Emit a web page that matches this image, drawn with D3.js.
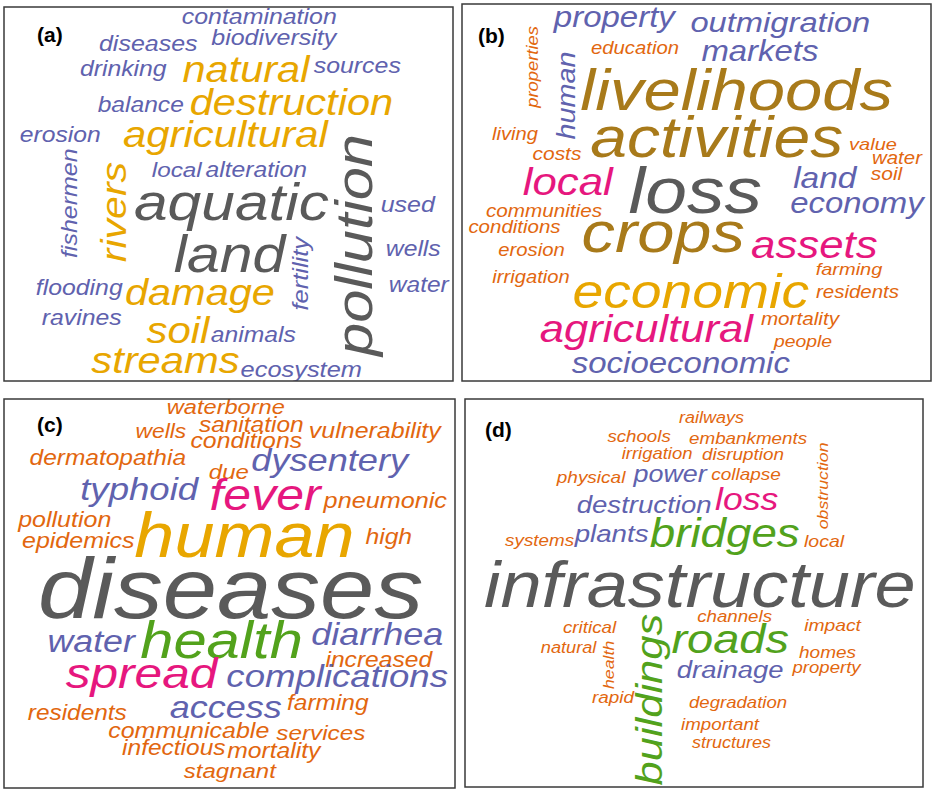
<!DOCTYPE html>
<html>
<head>
<meta charset="utf-8">
<script src="https://cdn.jsdelivr.net/npm/d3@7"></script>
<style>
  body { margin: 0; background: #fff; }
  svg { display: block; }
</style>
</head>
<body>
<svg id="chart" width="935" height="793"></svg>
<script>
// words of each cloud: [word, weight, colour group]
const wordsA = [
  ["contamination", 24.9, "P"], ["biodiversity", 25, "P"], ["diseases", 25, "P"],
  ["drinking", 24.8, "P"], ["natural", 41.5, "G"], ["sources", 24.9, "P"],
  ["balance", 24.6, "P"], ["destruction", 41.6, "G"], ["erosion", 24.7, "P"],
  ["agricultural", 41.9, "G"], ["fishermen", 25, "P"], ["rivers", 41, "G"],
  ["local", 24.3, "P"], ["alteration", 24.7, "P"], ["aquatic", 60.5, "K"],
  ["pollution", 59.6, "K"], ["used", 25, "P"], ["land", 59, "K"],
  ["fertility", 25.5, "P"], ["wells", 24.7, "P"], ["water", 24.5, "P"],
  ["flooding", 24.8, "P"], ["damage", 41.5, "G"], ["ravines", 24.8, "P"],
  ["soil", 42, "G"], ["animals", 24.7, "P"], ["streams", 41.7, "G"],
  ["ecosystem", 25.4, "P"]
];
// cloud placement: [x, y (baseline), rotation] inside the panel
const placeA = [
  [256.5, 17, 0], [271, 38, 0], [145.5, 44, 0],
  [120.5, 69, 0], [244, 75, 0], [354.5, 66, 0],
  [138, 105, 0], [289.5, 108, 0], [57.5, 135, 0],
  [223.5, 140, 0], [73, 195, -90], [122, 203, -90],
  [174, 170, 0], [253.5, 170, 0], [230.5, 213, 0],
  [368, 235, -90], [405, 205, 0], [228.5, 265, 0],
  [304, 265.5, -90], [410.5, 249, 0], [416, 285, 0],
  [76.5, 288, 0], [198, 298, 0], [79, 318, 0],
  [176, 336, 0], [250.5, 335, 0], [163.5, 366, 0],
  [298.5, 370, 0]
];

const wordsB = [
  ["property", 33, "P"], ["outmigration", 32.7, "P"], ["properties", 18.4, "O"],
  ["education", 20.3, "O"], ["human", 28.8, "P"], ["markets", 32.9, "P"],
  ["livelihoods", 67, "B"], ["living", 20.2, "O"], ["activities", 66, "B"],
  ["value", 20, "O"], ["costs", 21, "O"], ["water", 20.4, "O"],
  ["soil", 21, "O"], ["local", 43.8, "M"], ["loss", 75, "K"],
  ["land", 33.5, "P"], ["economy", 32.9, "P"], ["communities", 20.7, "O"],
  ["conditions", 20.5, "O"], ["crops", 66.8, "B"], ["assets", 43.8, "M"],
  ["erosion", 20.3, "O"], ["farming", 20, "O"], ["irrigation", 20.2, "O"],
  ["economic", 55.3, "G"], ["residents", 20.5, "O"], ["mortality", 20.7, "O"],
  ["agricultural", 43.6, "M"], ["people", 19.4, "O"], ["socioeconomic", 33, "P"]
];
const placeB = [
  [154, 23, 0], [320, 28, 0], [76, 62, -90],
  [174, 50, 0], [113, 90, -90], [299.5, 57, 0],
  [278, 106, 0], [54, 136, 0], [258, 153, 0],
  [412, 146, 0], [96, 156, 0], [436, 160, 0],
  [425.5, 176, 0], [108, 191, 0], [237, 209, 0],
  [364.5, 184, 0], [396.5, 209, 0], [83, 213, 0],
  [53.5, 229, 0], [204.5, 248, 0], [354.5, 254, 0],
  [70.5, 252, 0], [388, 271, 0], [70, 279, 0],
  [231.5, 304, 0], [396.5, 294, 0], [339, 321, 0],
  [186.5, 338, 0], [342, 343, 0], [220.5, 369, 0]
];

const wordsC = [
  ["waterborne", 23.6, "O"], ["wells", 22.8, "O"], ["sanitation", 24.5, "O"],
  ["vulnerability", 25, "O"], ["conditions", 24.8, "O"], ["dermatopathia", 24.5, "O"],
  ["due", 24, "O"], ["dysentery", 36.2, "P"], ["typhoid", 36.6, "P"],
  ["fever", 50, "M"], ["pneumonic", 25.2, "O"], ["pollution", 25, "O"],
  ["human", 72, "G"], ["high", 24.7, "O"], ["epidemics", 25, "O"],
  ["diseases", 97.6, "K"], ["water", 35.7, "P"], ["health", 59.7, "N"],
  ["diarrhea", 36, "P"], ["increased", 24.6, "O"], ["spread", 49.6, "M"],
  ["complications", 36.6, "P"], ["access", 36, "P"], ["farming", 24.5, "O"],
  ["residents", 24.4, "O"], ["communicable", 25, "O"], ["services", 24.3, "O"],
  ["infectious", 24.5, "O"], ["mortality", 24.7, "O"], ["stagnant", 24, "O"]
];
const placeC = [
  [223, 15, 0], [158, 39, 0], [248.5, 33, 0],
  [372, 39, 0], [243.5, 49, 0], [105, 66, 0],
  [226, 80, 0], [327.5, 72, 0], [137, 101, 0],
  [263.5, 111, 0], [382.5, 109, 0], [62, 128, 0],
  [244, 158, 0], [386, 145, 0], [75.5, 149, 0],
  [231.5, 219, 0], [89, 253, 0], [220.5, 259, 0],
  [375, 246, 0], [376, 268, 0], [140, 289, 0],
  [335, 288, 0], [223.5, 319, 0], [325, 311, 0],
  [74.5, 321, 0], [186, 339, 0], [318, 341, 0],
  [171, 356, 0], [271, 359, 0], [227, 379, 0]
];

const wordsD = [
  ["railways", 18, "O"], ["schools", 18.7, "O"], ["embankments", 18.8, "O"],
  ["irrigation", 18.5, "O"], ["disruption", 18.9, "O"], ["obstruction", 17.8, "O"],
  ["physical", 19, "O"], ["power", 26.9, "P"], ["collapse", 19, "O"],
  ["destruction", 27.6, "P"], ["loss", 35.6, "M"], ["systems", 18.8, "O"],
  ["plants", 27.7, "P"], ["bridges", 45.7, "N"], ["local", 19.5, "O"],
  ["infrastructure", 74, "K"], ["channels", 18.7, "O"], ["impact", 19.3, "O"],
  ["critical", 18.8, "O"], ["roads", 47, "N"], ["natural", 18.2, "O"],
  ["health", 17.7, "O"], ["buildings", 43.5, "N"], ["homes", 19, "O"],
  ["drainage", 27.4, "P"], ["property", 18.6, "O"], ["rapid", 18.9, "O"],
  ["degradation", 18.6, "O"], ["important", 18.7, "O"], ["structures", 18, "O"]
];
const placeD = [
  [247.5, 24, 0], [175, 43, 0], [284, 45, 0],
  [193, 60, 0], [279, 61, 0], [363, 86, -90],
  [127, 84, 0], [206.5, 83, 0], [282, 81, 0],
  [180.5, 114, 0], [283.5, 111, 0], [75.5, 147, 0],
  [148, 143, 0], [262, 148, 0], [360, 148, 0],
  [238.5, 208, 0], [270.5, 223, 0], [368.5, 232, 0],
  [125.5, 234, 0], [267.5, 254, 0], [104.5, 254, 0],
  [149, 265, -90], [197, 298.5, -90], [363.5, 259, 0],
  [266.5, 279, 0], [362.5, 274, 0], [149, 304, 0],
  [274, 309, 0], [256, 331, 0], [267.5, 349, 0]
];

const panelLabels = ["(a)", "(b)", "(c)", "(d)"];

// colour groups
const groupKeys = ["P", "G", "K", "B", "M", "O", "N"];
const groupColors = ["#6062ae", "#e8a600", "#5a5a5a", "#a87a1a", "#e6177e", "#e2670f", "#52a21c"];

const svg = d3.select("#chart");
svg.append("rect").attr("width", 935).attr("height", 793).attr("fill", "#fff");

const color = d3.scaleOrdinal().domain(groupKeys).range(groupColors);
const stretch = 1.15;
const fontSize = d3.scaleLinear().domain([0, 100]).range([0, 100 / stretch]);

const panels = [
  { words: wordsA, place: placeA, x: 4, y: 7, w: 449, h: 374, label: [33, 35] },
  { words: wordsB, place: placeB, x: 462, y: 4, w: 469, h: 377, label: [16, 39] },
  { words: wordsC, place: placeC, x: 4, y: 399, w: 451, h: 389, label: [33, 33] },
  { words: wordsD, place: placeD, x: 465, y: 399, w: 458, h: 388, label: [20, 38] }
];

panels.forEach((p, i) => {
  const xs = d3.scaleLinear().domain([0, p.w]).range([p.x, p.x + p.w]);
  const ys = d3.scaleLinear().domain([0, p.h]).range([p.y, p.y + p.h]);

  svg.append("clipPath").attr("id", "clip" + i)
    .append("rect").attr("x", p.x).attr("y", p.y).attr("width", p.w).attr("height", p.h);

  const g = svg.append("g").attr("clip-path", `url(#clip${i})`);

  const data = p.words.map((w, j) => ({
    text: w[0], weight: w[1], group: w[2],
    x: p.place[j][0], y: p.place[j][1], rot: p.place[j][2]
  }));

  g.selectAll("text.word")
    .data(data)
    .enter()
    .append("text")
    .attr("class", "word")
    .attr("transform", (d) => `translate(${xs(d.x)},${ys(d.y)}) rotate(${d.rot}) scale(${stretch},1)`)
    .attr("dx", (d) => -0.05 * fontSize(d.weight))
    .attr("text-anchor", "middle")
    .style("font-family", "'Liberation Sans', Arial, sans-serif")
    .style("font-style", "italic")
    .style("font-size", (d) => fontSize(d.weight) + "px")
    .style("fill", (d) => color(d.group))
    .text((d) => d.text);

  svg.append("text")
    .attr("x", xs(p.label[0]))
    .attr("y", ys(p.label[1]))
    .style("font-family", "'Liberation Sans', Arial, sans-serif")
    .style("font-weight", "bold")
    .style("font-size", "21px")
    .style("fill", "#000")
    .text(panelLabels[i]);

  svg.append("rect")
    .attr("x", p.x).attr("y", p.y)
    .attr("width", p.w).attr("height", p.h)
    .attr("fill", "none")
    .attr("stroke", "#3a3a3a")
    .attr("stroke-width", 1.5);
});
</script>
</body>
</html>
